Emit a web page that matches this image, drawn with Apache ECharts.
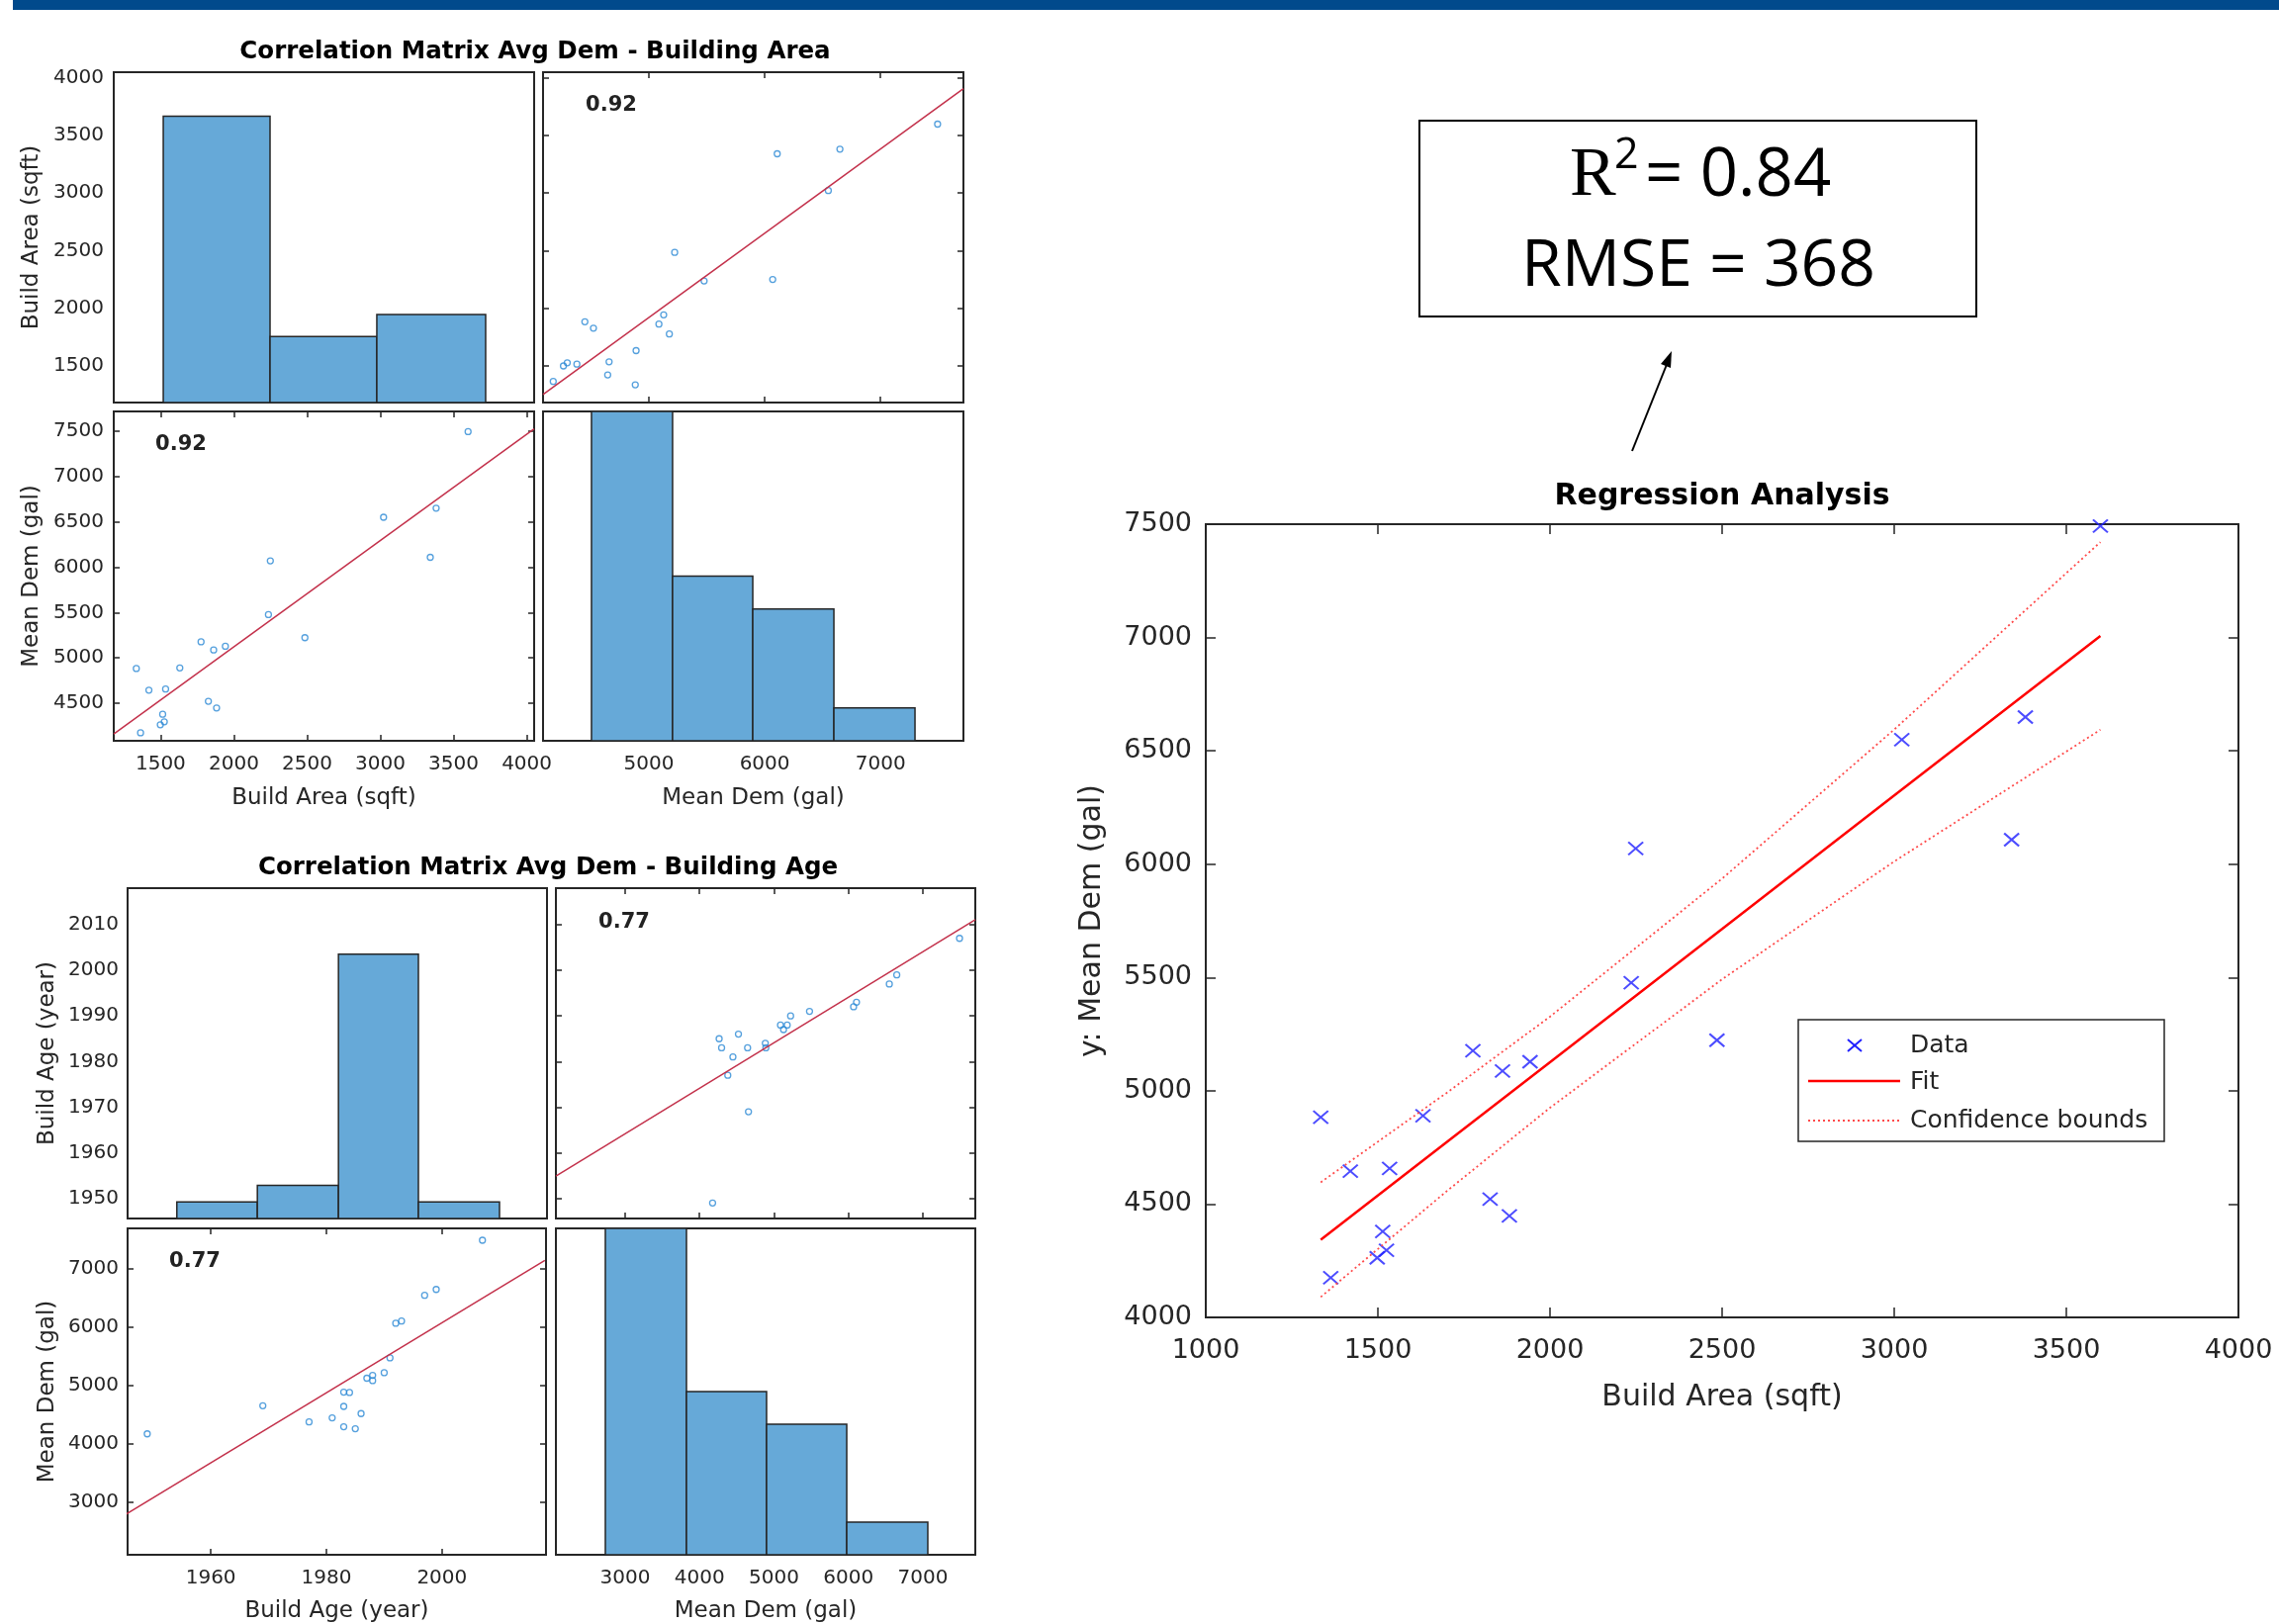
<!DOCTYPE html>
<html>
<head>
<meta charset="utf-8">
<title>Regression Analysis</title>
<script src="https://cdn.jsdelivr.net/npm/echarts@6.0.0/dist/echarts.min.js"></script>
<style>
    html, body { margin: 0; padding: 0; background: #fff; }
    #main { width: 2304px; height: 1642px; }
</style>
</head>
<body>
<div id="main"></div>
<script>
// 数据：20 栋建筑
var buildArea = [1334, 1363, 1420, 1498, 1514, 1525, 1534, 1631, 1776, 1826, 1862, 1882, 1942, 2236, 2249, 2485, 3022, 3341, 3381, 3599];
var meanDem = [4883, 4175, 4645, 4263, 4379, 4296, 4657, 4890, 5177, 4522, 5087, 4448, 5128, 5477, 6069, 5223, 6549, 6108, 6649, 7492];
var buildAge = [1984, 1949, 1983, 1985, 1977, 1983, 1969, 1983, 1988, 1986, 1988, 1981, 1987, 1991, 1992, 1990, 1997, 1993, 1999, 2007];

// 刻度
var areaTicks = [1500, 2000, 2500, 3000, 3500, 4000];
var demRowTicks = [4500, 5000, 5500, 6000, 6500, 7000, 7500];
var demColTicks = [5000, 6000, 7000];
var ageRowTicks = [1950, 1960, 1970, 1980, 1990, 2000, 2010];
var ageColTicks = [1960, 1980, 2000];
var demTicksAge = [3000, 4000, 5000, 6000, 7000];
var regXTicks = [1000, 1500, 2000, 2500, 3000, 3500, 4000];
var regYTicks = [4000, 4500, 5000, 5500, 6000, 6500, 7000, 7500];

// 直方图
var areaHistEdges = [1518, 2247, 2976, 3719];
var areaHistCounts = [13, 3, 4];
var demHistEdgesA = [4505, 5205, 5897, 6597, 7297];
var demHistCountsA = [10, 5, 4, 1];
var ageHistEdges = [1954.1, 1968, 1982, 1995.8, 2009.8];
var ageHistCounts = [1, 2, 16, 1];
var demHistEdgesB = [2734, 3824, 4900, 5977, 7066];
var demHistCountsB = [10, 5, 4, 1];

// 最小二乘线 (端点)
var lsDemAreaX = [4087, 7715], lsDemAreaY = [1250, 3907];
var lsAreaDemX = [1180, 4050], lsAreaDemY = [4161, 7522];
var lsDemAgeX = [2070, 7704], lsDemAgeY = [1954.9, 2011.1];
var lsAgeDemX = [1945.3, 2017.8], lsAgeDemY = [2796, 7146];

// 回归拟合与置信区间
var fitX = [1334, 1700, 2000, 2500, 3000, 3599];
var fitY = [4343, 4774, 5126, 5714, 6303, 7007];
var upperY = [4596, 4991, 5327, 5936, 6594, 7421];
var lowerY = [4090, 4557, 4925, 5492, 6012, 6593];

var corrArea = '0.92';
var corrAge = '0.77';

// 坐标范围
var areaRange = [1180, 4050];
var demRangeA = [4087, 7715];
var ageRange = [1945.6, 2018];
var demRangeBx = [2070, 7704];
var demRangeBy = [2103, 7695];

var font = "'DejaVu Sans', sans-serif";
var ink = '#262626';
var histFill = '#66a9d8';
var dotBlue = '#2a88d4';
var lsRed = '#c3314b';

var grid = [], xAxis = [], yAxis = [], series = [];

function makeAxis(g, pos, range, ticks, o) {
    o = o || {};
    var vertical = pos === 'left' || pos === 'right';
    return {
        type: 'value', gridIndex: g, position: pos,
        min: range[0], max: range[1],
        name: o.name || '',
        nameLocation: 'middle',
        nameGap: o.nameGap || 0,
        nameRotate: vertical ? 90 : 0,
        nameTextStyle: { fontFamily: font, fontSize: o.nameSize || 23, color: ink },
        axisLine: { show: false },
        splitLine: { show: false },
        axisTick: {
            show: !!o.tick, inside: true, length: o.tickLen || 6,
            lineStyle: { color: ink, width: 1.5 }, customValues: ticks
        },
        axisLabel: {
            show: !!o.label, customValues: ticks, margin: o.margin || 10,
            fontFamily: font, fontSize: o.labelSize || 20, color: ink,
            formatter: function (v) { return String(v); }
        }
    };
}

// 一个小图：外框 + 四条轴（直方图时右轴换成计数轴）
function panel(box, xr, yr, xt, yt, o) {
    var g = grid.length;
    grid.push({
        left: box[0], top: box[1], width: box[2], height: box[3],
        show: true, borderColor: ink, borderWidth: 2, backgroundColor: 'transparent'
    });
    var ix = xAxis.length, iy = yAxis.length;
    xAxis.push(makeAxis(g, 'bottom', xr, xt, o.bottom));
    xAxis.push(makeAxis(g, 'top', xr, xt, o.top));
    yAxis.push(makeAxis(g, 'left', yr, yt, o.left));
    if (o.countMax) {
        yAxis.push({ type: 'value', gridIndex: g, position: 'right', min: 0, max: o.countMax, show: false });
    } else {
        yAxis.push(makeAxis(g, 'right', yr, yt, o.right));
    }
    return { x: ix, y: iy, y2: iy + 1 };
}

function histSeries(p, edges, counts) {
    return {
        type: 'custom', xAxisIndex: p.x, yAxisIndex: p.y2, silent: true, clip: true,
        renderItem: function (params, api) {
            var a = api.coord([api.value(0), api.value(2)]);
            var b = api.coord([api.value(1), 0]);
            return {
                type: 'rect',
                shape: { x: a[0], y: a[1], width: b[0] - a[0], height: b[1] - a[1] },
                style: { fill: histFill, stroke: ink, lineWidth: 1.5 }
            };
        },
        data: counts.map(function (c, i) { return [edges[i], edges[i + 1], c]; })
    };
}

function pairs(xs, ys) {
    return xs.map(function (v, i) { return [v, ys[i]]; });
}

function dots(p, xs, ys) {
    return {
        type: 'scatter', xAxisIndex: p.x, yAxisIndex: p.y, silent: true,
        symbol: 'circle', symbolSize: 6,
        itemStyle: { color: 'rgba(255,255,255,0)', borderColor: dotBlue, borderWidth: 1.3 },
        data: pairs(xs, ys)
    };
}

function lsLine(p, xs, ys) {
    return {
        type: 'line', xAxisIndex: p.x, yAxisIndex: p.y, silent: true, clip: true,
        symbol: 'none', lineStyle: { color: lsRed, width: 1.5 },
        data: pairs(xs, ys)
    };
}

var tk = { tick: true };

// 相关矩阵：面积
var aTL = panel([115, 73, 425, 334], areaRange, areaRange, areaTicks, areaTicks, {
    countMax: 15,
    left: { label: true, name: 'Build Area (sqft)', nameGap: 71 }
});
var aTR = panel([549, 73, 425, 334], demRangeA, areaRange, demColTicks, areaTicks, {
    bottom: tk, top: tk, left: tk, right: tk
});
var aBL = panel([115, 416, 425, 333], areaRange, demRangeA, areaTicks, demRowTicks, {
    bottom: { tick: true, label: true, margin: 14, name: 'Build Area (sqft)', nameGap: 47 },
    top: tk,
    left: { tick: true, label: true, name: 'Mean Dem (gal)', nameGap: 71 },
    right: tk
});
var aBR = panel([549, 416, 425, 333], demRangeA, demRangeA, demColTicks, demRowTicks, {
    countMax: 10,
    bottom: { label: true, margin: 14, name: 'Mean Dem (gal)', nameGap: 47 }
});

series.push(histSeries(aTL, areaHistEdges, areaHistCounts));
series.push(lsLine(aTR, lsDemAreaX, lsDemAreaY));
series.push(dots(aTR, meanDem, buildArea));
series.push(lsLine(aBL, lsAreaDemX, lsAreaDemY));
series.push(dots(aBL, buildArea, meanDem));
series.push(histSeries(aBR, demHistEdgesA, demHistCountsA));

// 相关矩阵：建筑年代
var gTL = panel([129, 898, 424, 334], ageRange, ageRange, ageColTicks, ageRowTicks, {
    countMax: 20,
    left: { label: true, margin: 9, name: 'Build Age (year)', nameGap: 69 }
});
var gTR = panel([562, 898, 424, 334], demRangeBx, ageRange, demTicksAge, ageRowTicks, {
    bottom: tk, top: tk, left: tk, right: tk
});
var gBL = panel([129, 1242, 423, 332], ageRange, demRangeBy, ageColTicks, demTicksAge, {
    bottom: { tick: true, label: true, margin: 14, name: 'Build Age (year)', nameGap: 46 },
    top: tk,
    left: { tick: true, label: true, margin: 9, name: 'Mean Dem (gal)', nameGap: 69 },
    right: tk
});
var gBR = panel([562, 1242, 424, 332], demRangeBx, demRangeBy, demTicksAge, demTicksAge, {
    countMax: 10,
    bottom: { label: true, margin: 14, name: 'Mean Dem (gal)', nameGap: 46 }
});

series.push(histSeries(gTL, ageHistEdges, ageHistCounts));
series.push(lsLine(gTR, lsDemAgeX, lsDemAgeY));
series.push(dots(gTR, meanDem, buildAge));
series.push(lsLine(gBL, lsAgeDemX, lsAgeDemY));
series.push(dots(gBL, buildAge, meanDem));
series.push(histSeries(gBR, demHistEdgesB, demHistCountsB));

// 回归分析
var rt = { tick: true, tickLen: 10 };
var reg = panel([1219, 530, 1044, 802], [1000, 4000], [4000, 7500], regXTicks, regYTicks, {
    bottom: { tick: true, tickLen: 10, label: true, labelSize: 27, margin: 20, name: 'Build Area (sqft)', nameGap: 66, nameSize: 30 },
    top: rt,
    left: { tick: true, tickLen: 10, label: true, labelSize: 27, margin: 14, name: 'y: Mean Dem (gal)', nameGap: 100, nameSize: 30 },
    right: rt
});

series.push({
    type: 'line', xAxisIndex: reg.x, yAxisIndex: reg.y, silent: true, symbol: 'none',
    lineStyle: { color: '#ff4a4a', width: 1.8, type: [2, 3] }, data: pairs(fitX, upperY)
});
series.push({
    type: 'line', xAxisIndex: reg.x, yAxisIndex: reg.y, silent: true, symbol: 'none',
    lineStyle: { color: '#ff4a4a', width: 1.8, type: [2, 3] }, data: pairs(fitX, lowerY)
});
series.push({
    type: 'line', xAxisIndex: reg.x, yAxisIndex: reg.y, silent: true, symbol: 'none',
    lineStyle: { color: '#ff0000', width: 2.5 }, data: pairs(fitX, fitY)
});
series.push({
    type: 'scatter', xAxisIndex: reg.x, yAxisIndex: reg.y, silent: true,
    symbol: 'path://M0,0L10,10M10,0L0,10', symbolSize: [15, 13],
    itemStyle: { color: 'none', borderColor: '#1f1fff', borderWidth: 2 },
    data: pairs(buildArea, meanDem)
});

var titleStyle = { fontFamily: font, fontWeight: 'bold', color: '#000' };
var boxFont = "'Open Sans', sans-serif";

var graphic = [
    { type: 'rect', shape: { x: 13, y: 0, width: 2291, height: 10 }, style: { fill: '#014a8c' } },
    // 结果框
    { type: 'rect', shape: { x: 1435, y: 122, width: 563, height: 198 }, style: { fill: '#fff', stroke: '#000', lineWidth: 2 } },
    { type: 'text', x: 1587, y: 179, style: { text: 'R', verticalAlign: 'middle', fontFamily: "'Liberation Serif', serif", fontSize: 70, fill: '#000' } },
    { type: 'text', x: 1632, y: 158, style: { text: '2', verticalAlign: 'middle', fontFamily: boxFont, fontSize: 43, fill: '#000' } },
    { type: 'text', x: 1663, y: 179, style: { text: '= 0.84', verticalAlign: 'middle', fontFamily: boxFont, fontSize: 67, fill: '#000' } },
    {
        type: 'text', x: 1717, y: 270,
        style: { text: 'RMSE = 368', align: 'center', verticalAlign: 'middle', fontFamily: boxFont, fontSize: 66, fill: '#000' }
    },
    // 箭头
    { type: 'line', shape: { x1: 1650, y1: 456, x2: 1686, y2: 366 }, style: { stroke: '#000', lineWidth: 2 } },
    { type: 'polygon', shape: { points: [[1690, 355], [1689, 372], [1679, 368]] }, style: { fill: '#000' } },
    // 相关系数
    { type: 'text', x: 618, y: 107, style: { text: corrArea, align: 'center', verticalAlign: 'middle', fontFamily: font, fontWeight: 'bold', fontSize: 21, fill: '#222' } },
    { type: 'text', x: 183, y: 450, style: { text: corrArea, align: 'center', verticalAlign: 'middle', fontFamily: font, fontWeight: 'bold', fontSize: 21, fill: '#222' } },
    { type: 'text', x: 631, y: 933, style: { text: corrAge, align: 'center', verticalAlign: 'middle', fontFamily: font, fontWeight: 'bold', fontSize: 21, fill: '#222' } },
    { type: 'text', x: 197, y: 1276, style: { text: corrAge, align: 'center', verticalAlign: 'middle', fontFamily: font, fontWeight: 'bold', fontSize: 21, fill: '#222' } },
    // 图例
    { type: 'rect', z: 100, shape: { x: 1818, y: 1031, width: 370, height: 123 }, style: { fill: '#fff', stroke: ink, lineWidth: 1.5 } },
    { type: 'line', z: 101, shape: { x1: 1868, y1: 1051, x2: 1882, y2: 1063 }, style: { stroke: '#1f1fff', lineWidth: 2 } },
    { type: 'line', z: 101, shape: { x1: 1882, y1: 1051, x2: 1868, y2: 1063 }, style: { stroke: '#1f1fff', lineWidth: 2 } },
    { type: 'line', z: 101, shape: { x1: 1828, y1: 1093, x2: 1921, y2: 1093 }, style: { stroke: '#ff0000', lineWidth: 2.5 } },
    { type: 'line', z: 101, shape: { x1: 1828, y1: 1133, x2: 1921, y2: 1133 }, style: { stroke: '#ff4a4a', lineWidth: 1.8, lineDash: [2, 3] } },
    { type: 'text', z: 101, x: 1931, y: 1057, style: { text: 'Data', verticalAlign: 'middle', fontFamily: font, fontSize: 25, fill: ink } },
    { type: 'text', z: 101, x: 1931, y: 1094, style: { text: 'Fit', verticalAlign: 'middle', fontFamily: font, fontSize: 25, fill: ink } },
    { type: 'text', z: 101, x: 1931, y: 1133, style: { text: 'Confidence bounds', verticalAlign: 'middle', fontFamily: font, fontSize: 25, fill: ink } }
];

var myChart = echarts.init(document.getElementById('main'));
myChart.setOption({
    animation: false,
    backgroundColor: '#fff',
    title: [
        { text: 'Correlation Matrix Avg Dem - Building Area', left: 541, top: 40, textAlign: 'center', padding: 0, textStyle: Object.assign({ fontSize: 24.5 }, titleStyle) },
        { text: 'Correlation Matrix Avg Dem - Building Age', left: 554, top: 865, textAlign: 'center', padding: 0, textStyle: Object.assign({ fontSize: 24.5 }, titleStyle) },
        { text: 'Regression Analysis', left: 1741, top: 487, textAlign: 'center', padding: 0, textStyle: Object.assign({ fontSize: 30 }, titleStyle) }
    ],
    grid: grid,
    xAxis: xAxis,
    yAxis: yAxis,
    series: series,
    graphic: graphic
});
</script>
</body>
</html>
